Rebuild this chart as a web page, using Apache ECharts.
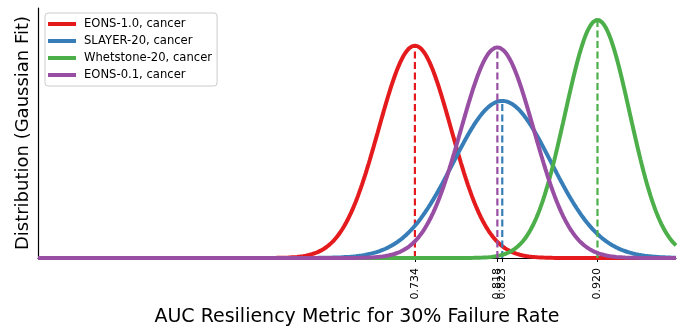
<!DOCTYPE html>
<html>
<head>
<meta charset="utf-8">
<script src="https://cdn.jsdelivr.net/npm/echarts@6/dist/echarts.min.js"></script>
<style>
  html, body { margin: 0; padding: 0; background: #fff; }
  #chart { width: 688px; height: 326px; }
</style>
</head>
<body>
<div id="chart"></div>
<script>
// Gaussian fits of the AUC resiliency metric at 30% failure rate
const seriesNames = ['EONS-1.0, cancer', 'SLAYER-20, cancer', 'Whetstone-20, cancer', 'EONS-0.1, cancer'];
const means = [0.734, 0.823, 0.920, 0.818];
const sigmas = [0.037, 0.050, 0.033, 0.0373];
const colors = ['#e41a1c', '#377eb8', '#4daf4a', '#984ea3'];
const xRange = [0.35, 1.0];
const tickValues = [0.734, 0.818, 0.823, 0.920];

function pdf(x, mu, s) {
  return Math.exp(-0.5 * ((x - mu) / s) ** 2) / (s * Math.sqrt(2 * Math.PI));
}

const step = 0.001;
const nPts = Math.round((xRange[1] - xRange[0]) / step);
const series = [];
let peakMax = 0;

seriesNames.forEach((name, i) => {
  const pts = [];
  for (let k = 0; k <= nPts; k++) {
    const x = xRange[0] + k * step;
    pts.push([x, pdf(x, means[i], sigmas[i])]);
  }
  const peak = pdf(means[i], means[i], sigmas[i]);
  peakMax = Math.max(peakMax, peak);
  series.push({
    name: name,
    type: 'line',
    data: pts,
    showSymbol: false,
    symbol: 'none',
    lineStyle: { color: colors[i], width: 4 },
    itemStyle: { color: colors[i] },
    z: 2 + i * 2,
    animation: false
  });
  // dashed marker at the mean, from the baseline up to the peak
  series.push({
    name: name + ' mean',
    type: 'line',
    data: [[means[i], 0], [means[i], peak]],
    showSymbol: false,
    symbol: 'none',
    lineStyle: { color: colors[i], width: 2.2, type: [7, 3.5] },
    z: 3 + i * 2,
    animation: false
  });
});

const chart = echarts.init(document.getElementById('chart'), null, { renderer: 'canvas' });
chart.setOption({
  animation: false,
  backgroundColor: '#fff',
  textStyle: { fontFamily: 'DejaVu Sans' },
  grid: { left: 38, right: 12, top: 8, bottom: 68, containLabel: false, outerBoundsMode: 'none' },
  legend: {
    data: seriesNames,
    orient: 'vertical',
    left: 45,
    top: 13,
    icon: 'rect',
    itemWidth: 28,
    itemHeight: 4,
    itemGap: 5,
    padding: [5, 5, 5, 3],
    borderColor: '#cccccc',
    borderWidth: 1,
    borderRadius: 3,
    backgroundColor: 'rgba(255,255,255,0.8)',
    textStyle: { fontFamily: 'DejaVu Sans', fontSize: 11.6, color: '#000', padding: [0, 0, 0, 3] }
  },
  xAxis: {
    type: 'value',
    min: xRange[0],
    max: xRange[1],
    name: 'AUC Resiliency Metric for 30% Failure Rate',
    nameLocation: 'middle',
    nameGap: 45,
    nameTextStyle: { fontFamily: 'DejaVu Sans', fontSize: 19, color: '#000' },
    axisLine: { show: true, onZero: false, lineStyle: { color: '#000', width: 1.2 } },
    axisTick: { show: true, customValues: tickValues, length: 4, lineStyle: { color: '#000' } },
    axisLabel: {
      customValues: tickValues,
      rotate: 90,
      margin: 10,
      fontSize: 11,
      color: '#000',
      fontFamily: 'DejaVu Sans',
      formatter: v => v.toFixed(3)
    },
    splitLine: { show: false }
  },
  yAxis: {
    type: 'value',
    min: 0,
    max: peakMax * 1.05,
    name: 'Distribution (Gaussian Fit)',
    nameLocation: 'middle',
    nameGap: 6,
    nameTextStyle: { fontFamily: 'DejaVu Sans', fontSize: 18, color: '#000' },
    axisLine: { show: true, lineStyle: { color: '#000', width: 1.2 } },
    axisTick: { show: false },
    axisLabel: { show: false },
    splitLine: { show: false }
  },
  series: series
});
</script>
</body>
</html>
